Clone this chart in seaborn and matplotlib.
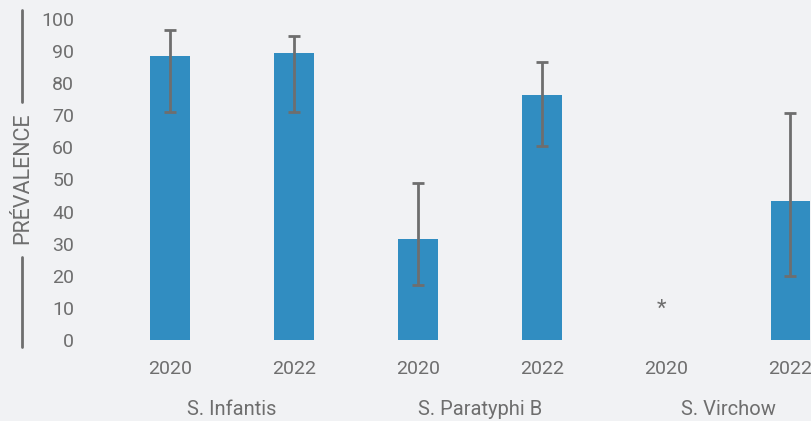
import matplotlib
matplotlib.use("Agg")
import matplotlib.pyplot as plt
import seaborn as sns
import numpy as np
import pandas as pd

categories = ["S. Infantis 2020", "S. Infantis 2022", "S. Paratyphi B 2020",
              "S. Paratyphi B 2022", "S. Virchow 2020", "S. Virchow 2022"]
years = ["2020", "2022", "2020", "2022", "2020", "2022"]
groups = ["S. Infantis", "S. Paratyphi B", "S. Virchow"]
values = [88.5, 89.5, 31.5, 76.3, np.nan, 43.2]
err_low = [71.0, 71.0, 17.0, 60.5, np.nan, 19.8]
err_high = [96.5, 94.8, 48.8, 86.7, np.nan, 70.8]
ticks_y = [0, 10, 20, 30, 40, 50, 60, 70, 80, 90, 100]

BG = "#f1f2f4"
BAR = "#318dc1"
GREY = "#6e6e6e"

sns.set_theme(style="white")
plt.rcParams["font.family"] = ["Roboto", "DejaVu Sans"]

fig = plt.figure(figsize=(8.11, 4.21), dpi=100, facecolor=BG)
ax = fig.add_axes([120 / 811, 0.1848, (811 - 120) / 811, 0.7777])
ax.set_facecolor(BG)

df = pd.DataFrame({"cat": categories, "val": values})
sns.barplot(data=df, x="cat", y="val", order=categories, color=BAR,
            saturation=1, width=0.315, ax=ax, errorbar=None, linewidth=0)

xs = np.arange(len(categories))
v = np.array(values, dtype=float)
lo = v - np.array(err_low, dtype=float)
hi = np.array(err_high, dtype=float) - v
ax.errorbar(xs, v, yerr=[lo, hi], fmt="none", ecolor=GREY, elinewidth=2,
            capsize=4, capthick=2)

# asterisk for missing value
ax.text(4 - 0.04, 9.5, "*", ha="center", va="center", fontsize=16, color=GREY)

ax.set_xlim(-0.403, 5.169)
ax.set_ylim(-1, 101)
ax.set_yticks(ticks_y)
ax.set_yticklabels([str(t) for t in ticks_y])
ax.set_xticks(xs)
ax.set_xticklabels(years)
ax.tick_params(axis="both", length=0, labelsize=14, labelcolor=GREY)
ax.tick_params(axis="y", pad=33)
ax.tick_params(axis="x", pad=12)
for s in ax.spines.values():
    s.set_visible(False)
ax.set_xlabel("")
ax.set_ylabel("")

for i, g in enumerate(groups):
    fig.text((120 + (2 * i + 0.5 + 0.403) * 124) / 811, 1 - 415 / 421, g,
             ha="center", va="baseline", fontsize=14.5, color=GREY)

# y label with lines
fig.text(23 / 811, 1 - 178 / 421, "PRÉVALENCE", rotation=90, ha="center",
         va="center", fontsize=15.5, color=GREY)
fig.add_artist(plt.Line2D([22 / 811, 22 / 811], [1 - 10 / 421, 1 - 102 / 421],
                          color=GREY, lw=2, transform=fig.transFigure))
fig.add_artist(plt.Line2D([22 / 811, 22 / 811], [1 - 257 / 421, 1 - 347 / 421],
                          color=GREY, lw=2, transform=fig.transFigure))

fig.savefig("out.png", dpi=100, facecolor=BG)
